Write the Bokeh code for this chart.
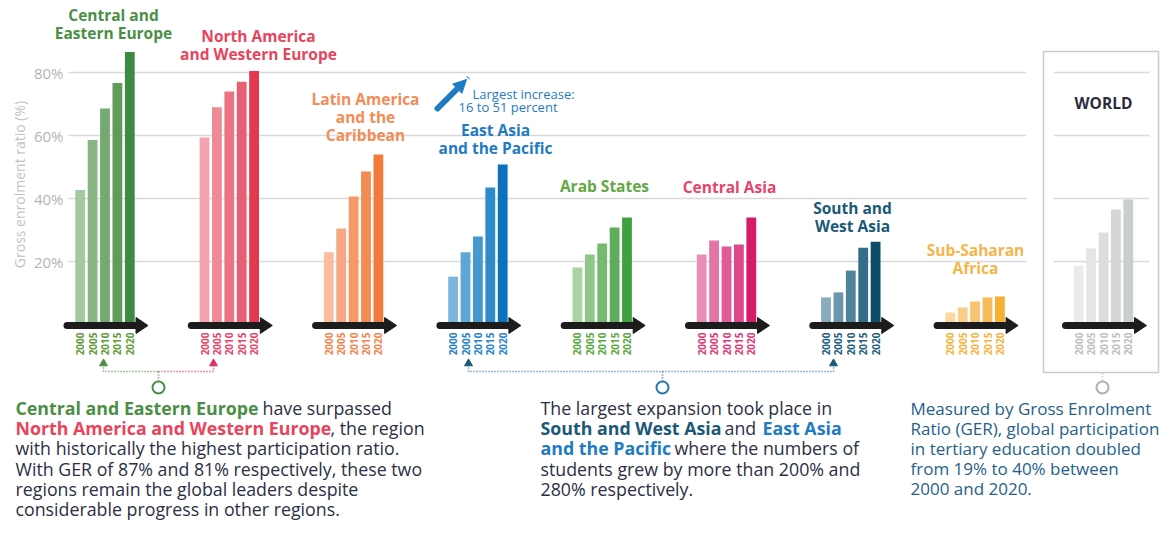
import math
from bokeh.plotting import figure
from bokeh.models import Range1d, ColumnDataSource, Arrow, NormalHead
from bokeh.core.properties import value
from bokeh.embed import file_html
from bokeh.resources import INLINE

# ---------------- data ----------------
years = ["2000", "2005", "2010", "2015", "2020"]
regions = ["Central and Eastern Europe", "North America and Western Europe",
           "Latin America and the Caribbean", "East Asia and the Pacific",
           "Arab States", "Central Asia", "South and West Asia",
           "Sub-Saharan Africa", "World"]
cee = [42.7, 58.6, 68.6, 76.7, 86.5]
nawe = [59.4, 69.0, 74.0, 77.1, 80.5]
lac = [22.9, 30.5, 40.6, 48.6, 54.0]
eap = [15.2, 22.9, 27.9, 43.5, 50.8]
arab = [18.1, 22.2, 25.7, 30.8, 34.0]
casia = [22.2, 26.7, 24.8, 25.4, 34.0]
swa = [8.6, 10.2, 17.1, 24.4, 26.3]
ssa = [3.8, 5.4, 7.3, 8.6, 8.9]
world = [18.7, 24.1, 29.2, 36.5, 39.7]
series = [cee, nawe, lac, eap, arab, casia, swa, ssa, world]
title_lines = [["Central and", "Eastern Europe"], ["North America", "and Western Europe"],
               ["Latin America", "and the", "Caribbean"], ["East Asia", "and the Pacific"],
               ["Arab States"], ["Central Asia"], ["South and", "West Asia"],
               ["Sub-Saharan", "Africa"], ["WORLD"]]
y_ticks = [20, 40, 60, 80]
y_tick_labels = ["20%", "40%", "60%", "80%"]

# ---------------- styles ----------------
palettes = [
    ["#a3c7a0", "#88b785", "#74aa70", "#5f9c5b", "#3f8a40"],
    ["#f3a3ad", "#ee8a96", "#ea7484", "#e65f72", "#e2394f"],
    ["#f9bda1", "#f7a783", "#f69868", "#f48b52", "#f27a3b"],
    ["#7db6dd", "#5ea6d6", "#4698cf", "#2f8acb", "#0d72be"],
    ["#a9d4a2", "#8ec787", "#75ba70", "#5fad5a", "#40a040"],
    ["#e98fb7", "#e574a7", "#e05c97", "#dc4889", "#d61b6b"],
    ["#88acbc", "#6b97aa", "#508298", "#346e88", "#0d4d6c"],
    ["#fbd8a2", "#f9ce8b", "#f7c571", "#f6bb58", "#f4b133"],
    ["#ebebeb", "#e4e5e5", "#dcdddd", "#d4d6d6", "#cbcece"],
]
title_colors = ["#4b8f46", "#e8445c", "#f58b57", "#1f7bc2", "#62a844",
                "#e5436c", "#1a5977", "#f6b54a", "#2a2c3c"]
year_colors = ["#5f9c3e", "#e5466a", "#f4844e", "#2a84c6", "#5aa83e",
               "#db3b78", "#1f5f7e", "#f4b540", "#bfc1c1"]
title_pos = [(113, 14), (258, 35), (365, 98), (495, 129), (604, 185),
             (729, 186), (852, 207), (975, 249), (1103, 102)]
FONT = value("Open Sans")
DARK = "#2c2f45"
RIGHT = "#25618a"


def Y(py):
    """convert a pixel row of the layout into the percent scale"""
    return (324.0 - py) / 3.15


W, H = 1160, 521
p = figure(width=W, height=H, output_backend="svg", toolbar_location=None,
           x_axis_location=None, y_axis_location=None, min_border=0,
           x_range=Range1d(0, W), y_range=Range1d(Y(H), Y(0)))
p.grid.visible = False
p.outline_line_color = None
p.background_fill_color = "white"
p.border_fill_color = "white"

# group centres
gx = [104.5 + 124.3 * i for i in range(8)] + [1103.0]
pitch, bw = 12.4, 9.8

# ---------- grid lines ----------
p.segment(x0=[68] * 4 + [1053] * 4, x1=[1026] * 4 + [1149] * 4,
          y0=y_ticks * 2, y1=y_ticks * 2, line_color="#dadada", line_width=1.5)

# world box
p.quad(left=[1043], right=[1158], top=[Y(51)], bottom=[Y(372)],
       fill_color=None, line_color="#cacaca", line_width=1.5)

# tick labels and axis title
p.text(x=[63] * 4, y=y_ticks, text=y_tick_labels, text_align="right",
       text_baseline="middle", text_font=FONT, text_font_size="15px",
       text_color="#b5b5b5")
p.text(x=[19], y=[Y(184)], text=["Gross enrolment ratio (%)"], angle=math.pi / 2,
       text_align="center", text_baseline="middle", text_font=FONT,
       text_font_size="14px", text_color="#c3c3c3")

# ---------- bars ----------
bx, btop, bcol, ycol = [], [], [], []
for g, vals in enumerate(series):
    for j, v in enumerate(vals):
        bx.append(gx[g] + (j - 2) * pitch)
        btop.append(v)
        bcol.append(palettes[g][j])
        ycol.append(year_colors[g])
src = ColumnDataSource(dict(x=bx, top=btop, color=bcol, ycol=ycol,
                            year=years * len(series)))
p.vbar(x="x", top="top", bottom=0, width=bw, fill_color="color",
       line_color=None, source=src)

# year labels
p.text(x="x", y=Y(332), text="year", angle=math.pi / 2, text_align="right",
       text_baseline="middle", text_font=FONT, text_font_size="10px",
       text_font_style="bold", text_color="ycol", source=src)

# black arrows under each group
ay = Y(325)
p.segment(x0=[c - 38 for c in gx], x1=[c + 32 for c in gx], y0=ay, y1=ay,
          line_width=7, line_cap="round", line_color="#1c1c1c")
p.patches(xs=[[c + 31, c + 43, c + 31] for c in gx],
          ys=[[Y(317), ay, Y(333)] for _ in gx],
          fill_color="#1c1c1c", line_color="#1c1c1c")

# ---------- group titles ----------
tx, ty, tt, tc = [], [], [], []
for g, lines in enumerate(title_lines):
    cx, cy = title_pos[g]
    for k, line in enumerate(lines):
        tx.append(cx)
        ty.append(Y(cy + 18 * k))
        tt.append(line)
        tc.append(title_colors[g])
p.text(x=tx, y=ty, text=tt, text_color=tc, text_align="center",
       text_baseline="middle", text_font=FONT, text_font_size="15.5px",
       text_font_style="bold")

# largest increase annotation
p.add_layout(Arrow(x_start=437, y_start=Y(108), x_end=466, y_end=Y(79),
                   line_width=6, line_color="#1f7bc2", line_cap="round",
                   end=NormalHead(size=13, fill_color="#1f7bc2",
                                  line_color="#1f7bc2")))
p.text(x=[472, 458], y=[Y(93), Y(106)], text=["Largest increase:", "16 to 51 percent"],
       text_align="left", text_baseline="middle", text_font=FONT,
       text_font_size="13px", text_color="#1f7bc2")

# ---------- connectors ----------
GREEN, PINK, BLUE, GRAY = "#4a8f46", "#e0306e", "#2a78b0", "#b0b0b0"
hy, cy_, ty_ = 371, 387, 364
p.multi_line(xs=[[103, 103, 158], [158, 158], [158, 213, 213],
                 [468, 468, 833, 833], [662, 662], [1102, 1102]],
             ys=[[Y(ty_), Y(hy), Y(hy)], [Y(hy), Y(cy_ - 6)],
                 [Y(hy), Y(hy), Y(ty_)],
                 [Y(ty_), Y(hy), Y(hy), Y(ty_)], [Y(hy), Y(cy_ - 6)],
                 [Y(373), Y(cy_ - 6)]],
             line_color=[GREEN, GREEN, PINK, BLUE, BLUE, GRAY],
             line_width=1.6, line_dash="1 2")
p.scatter(x=[103, 213, 468, 833], y=Y(ty_ - 1), marker="triangle", size=8,
          fill_color=[GREEN, PINK, "#1a5977", "#1a5977"],
          line_color=[GREEN, PINK, "#1a5977", "#1a5977"])
p.scatter(x=[158, 662, 1102], y=Y(cy_), marker="circle", size=12,
          fill_color="white", line_color=[GREEN, BLUE, GRAY], line_width=2)

# ---------- body texts ----------
base = [407.5 + 20.2 * k for k in range(6)]
runs = [
    # (line, x, text, bold, colour, size)
    (0, 15, "Central and Eastern Europe", True, "#4b8f46", 17.8),
    (0, 262, "have surpassed", False, DARK, 17.8),
    (1, 15, "North America and Western Europe", True, "#e8445c", 17.8),
    (1, 330, ", the region", False, DARK, 17.8),
    (2, 15, "with historically the highest participation ratio.", False, DARK, 17.8),
    (3, 15, "With GER of 87% and 81% respectively, these two", False, DARK, 17.8),
    (4, 15, "regions remain the global leaders despite", False, DARK, 17.8),
    (5, 15, "considerable progress in other regions.", False, DARK, 17.8),
    (0, 540, "The largest expansion took place in", False, DARK, 17.8),
    (1, 540, "South and West Asia", True, "#1a5977", 17.8),
    (1, 724, "and", False, DARK, 17.8),
    (1, 762, "East Asia", True, "#1f7bc2", 17.8),
    (2, 540, "and the Pacific", True, "#1f7bc2", 17.8),
    (2, 674, "where the numbers of", False, DARK, 17.8),
    (3, 540, "students grew by more than 200% and", False, DARK, 17.8),
    (4, 540, "280% respectively.", False, DARK, 17.8),
    (0, 910, "Measured by Gross Enrolment", False, RIGHT, 17),
    (1, 910, "Ratio (GER), global participation", False, RIGHT, 17),
    (2, 910, "in tertiary education doubled", False, RIGHT, 17),
    (3, 910, "from 19% to 40% between", False, RIGHT, 17),
    (4, 910, "2000 and 2020.", False, RIGHT, 17),
]
for bold in (False, True):
    for size in (17.8, 17):
        sel = [r for r in runs if r[3] == bold and r[5] == size]
        if not sel:
            continue
        p.text(x=[r[1] for r in sel], y=[Y(base[r[0]]) for r in sel],
               text=[r[2] for r in sel], text_color=[r[4] for r in sel],
               text_align="left", text_baseline="alphabetic", text_font=FONT,
               text_font_size=f"{size}px",
               text_font_style="bold" if bold else "normal")

open("out.html", "w").write(file_html(p, INLINE))
